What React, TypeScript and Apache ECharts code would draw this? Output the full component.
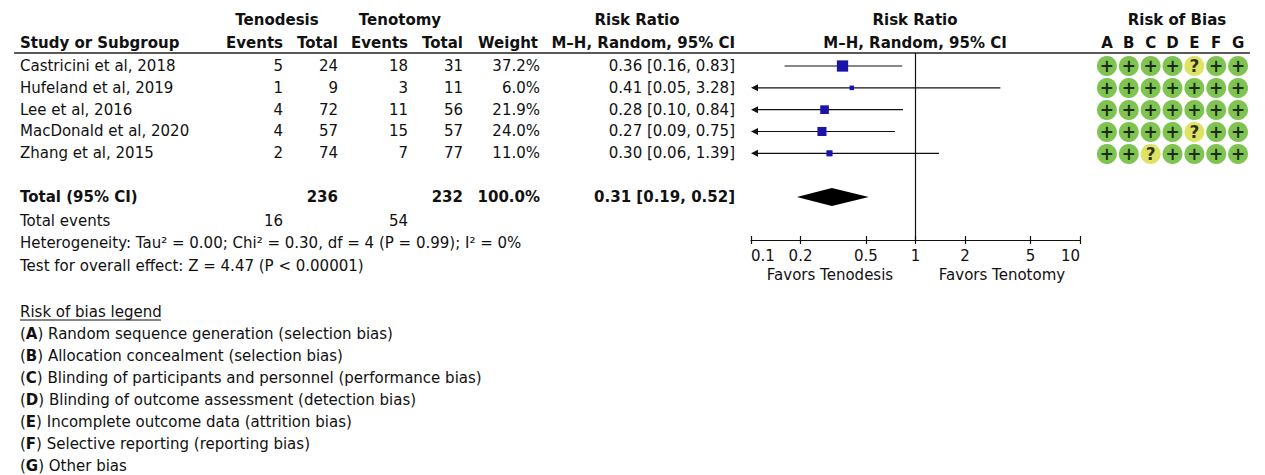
import React, { useEffect, useRef } from "react";
import * as echarts from "echarts";

const studies = ["Castricini et al, 2018", "Hufeland et al, 2019", "Lee et al, 2016", "MacDonald et al, 2020", "Zhang et al, 2015"];
const tenodesisEvents = [5, 1, 4, 4, 2];
const tenodesisTotal = [24, 9, 72, 57, 74];
const tenotomyEvents = [18, 3, 11, 15, 7];
const tenotomyTotal = [31, 11, 56, 57, 77];
const weights = [37.2, 6.0, 21.9, 24.0, 11.0];
const rr = [0.36, 0.41, 0.28, 0.27, 0.3];
const ciLow = [0.16, 0.05, 0.1, 0.09, 0.06];
const ciHigh = [0.83, 3.28, 0.84, 0.75, 1.39];
const totalTenodesis = 236;
const totalTenotomy = 232;
const totalWeight = "100.0%";
const totalEventsTenodesis = 16;
const totalEventsTenotomy = 54;
const pooled = [0.31, 0.19, 0.52];
const tickValues = [0.1, 0.2, 0.5, 1, 2, 5, 10];
const biasDomains = ["A", "B", "C", "D", "E", "F", "G"];
const biasJudgements = [
  ["+", "+", "+", "+", "?", "+", "+"],
  ["+", "+", "+", "+", "+", "+", "+"],
  ["+", "+", "+", "+", "+", "+", "+"],
  ["+", "+", "+", "+", "?", "+", "+"],
  ["+", "+", "?", "+", "+", "+", "+"],
];
const biasLegend = [
  ["A", "Random sequence generation (selection bias)"],
  ["B", "Allocation concealment (selection bias)"],
  ["C", "Blinding of participants and personnel (performance bias)"],
  ["D", "Blinding of outcome assessment (detection bias)"],
  ["E", "Incomplete outcome data (attrition bias)"],
  ["F", "Selective reporting (reporting bias)"],
  ["G", "Other bias"],
];
const heterogeneityText = "Heterogeneity: Tau² = 0.00; Chi² = 0.30, df = 4 (P = 0.99); I² = 0%";
const overallText = "Test for overall effect: Z = 4.47 (P < 0.00001)";

const FONT = '"DejaVu Sans", sans-serif';
const FS = 15;
const INK = "#111";

const fmt2 = (v: number) => v.toFixed(2);
const ciText = (e: number, l: number, h: number) => `${fmt2(e)} [${fmt2(l)}, ${fmt2(h)}]`;

function txt(text: string, x: number, y: number, align: string, bold = false, extra: any = {}) {
  return {
    type: "text",
    x,
    y,
    silent: true,
    style: {
      text,
      font: `${bold ? "bold " : ""}${FS}px ${FONT}`,
      fill: INK,
      align,
      verticalAlign: "middle",
      textAlign: align,
      textVerticalAlign: "middle",
      ...extra,
    },
  };
}

export default function App() {
  const ref = useRef<HTMLDivElement>(null);
  useEffect(() => {
    if (!ref.current) return;
    const chart = echarts.init(ref.current, undefined, { renderer: "svg" });

    const rowY0 = 66;
    const pitch = 21.83;
    const gridTop = 53;
    const gridBottomPx = 240;
    const yMin = (gridTop - rowY0) / pitch;
    const yMax = (gridBottomPx - rowY0) / pitch;
    const rowPx = (i: number) => rowY0 + pitch * i;
    const totalIdx = 6;

    const L = Math.log10;
    const studyData = studies.map((_, i) => [L(rr[i]), L(ciLow[i]), L(ciHigh[i]), i, weights[i]]);

    const graphics: any[] = [];
    // headers
    graphics.push(txt("Tenodesis", 277, 20, "center", true));
    graphics.push(txt("Tenotomy", 400, 20, "center", true));
    graphics.push(txt("Risk Ratio", 637, 20, "center", true));
    graphics.push(txt("Risk Ratio", 915, 20, "center", true));
    graphics.push(txt("Risk of Bias", 1177, 20, "center", true));
    graphics.push(txt("Study or Subgroup", 20, 43, "left", true));
    graphics.push(txt("Events", 283, 43, "right", true));
    graphics.push(txt("Total", 338, 43, "right", true));
    graphics.push(txt("Events", 408, 43, "right", true));
    graphics.push(txt("Total", 463, 43, "right", true));
    graphics.push(txt("Weight", 538, 43, "right", true));
    graphics.push(txt("M–H, Random, 95% CI", 735, 43, "right", true));
    graphics.push(txt("M–H, Random, 95% CI", 915, 43, "center", true));
    graphics.push({
      type: "line",
      silent: true,
      shape: { x1: 14, y1: 53, x2: 1250, y2: 53 },
      style: { stroke: "#222", lineWidth: 1.5 },
    });
    // rows
    studies.forEach((s, i) => {
      const y = rowPx(i);
      graphics.push(txt(s, 20, y, "left"));
      graphics.push(txt(String(tenodesisEvents[i]), 283, y, "right"));
      graphics.push(txt(String(tenodesisTotal[i]), 338, y, "right"));
      graphics.push(txt(String(tenotomyEvents[i]), 408, y, "right"));
      graphics.push(txt(String(tenotomyTotal[i]), 463, y, "right"));
      graphics.push(txt(weights[i].toFixed(1) + "%", 540, y, "right"));
      graphics.push(txt(ciText(rr[i], ciLow[i], ciHigh[i]), 735, y, "right"));
    });
    const ty = rowPx(totalIdx);
    graphics.push(txt("Total (95% CI)", 20, ty, "left", true));
    graphics.push(txt(String(totalTenodesis), 338, ty, "right", true));
    graphics.push(txt(String(totalTenotomy), 463, ty, "right", true));
    graphics.push(txt(totalWeight, 540, ty, "right", true));
    graphics.push(txt(ciText(pooled[0], pooled[1], pooled[2]), 735, ty, "right", true));
    graphics.push(txt("Total events", 20, 221, "left"));
    graphics.push(txt(String(totalEventsTenodesis), 283, 221, "right"));
    graphics.push(txt(String(totalEventsTenotomy), 408, 221, "right"));
    graphics.push(txt(heterogeneityText, 20, 243, "left"));
    graphics.push(txt(overallText, 20, 266, "left"));
    graphics.push(txt("Favors Tenodesis", 830, 275, "center"));
    graphics.push(txt("Favors Tenotomy", 1002, 275, "center"));
    // legend
    graphics.push(txt("Risk of bias legend", 20, 312, "left"));
    graphics.push({
      type: "line",
      silent: true,
      shape: { x1: 20, y1: 320, x2: 161, y2: 320 },
      style: { stroke: INK, lineWidth: 1 },
    });
    biasLegend.forEach(([k, d], i) => {
      graphics.push(
        txt(`({b|${k}}) ${d}`, 20, 333.5 + i * 22, "left", false, {
          rich: { b: { font: `bold ${FS}px ${FONT}`, fill: INK } },
        })
      );
    });

    const biasData: any[] = [];
    biasJudgements.forEach((row, r) =>
      row.forEach((v, c) => biasData.push({
        value: [c, r, v],
        itemStyle: { color: v === "+" ? "#5fb526" : "#d7dc3d" },
      }))
    );

    const option: any = {
      animation: false,
      textStyle: { fontFamily: FONT },
      grid: [
        { left: 751, width: 329, top: gridTop, height: gridBottomPx - gridTop },
        { left: 1096, width: 153, top: 55, height: 110 },
      ],
      xAxis: [
        {
          type: "value",
          gridIndex: 0,
          min: -1,
          max: 1,
          position: "bottom",
          splitLine: { show: false },
          axisLine: { show: true, onZero: false, lineStyle: { color: INK, width: 1.2 } },
          axisTick: { show: true, inside: false, length: 4, customValues: tickValues.map(L), lineStyle: { color: INK, width: 1.2 } },
          axisLabel: {
            show: true,
            customValues: tickValues.map(L),
            color: INK,
            fontSize: FS,
            fontFamily: FONT,
            margin: 8,
            alignMinLabel: "left",
            alignMaxLabel: "right",
            formatter: (v: number) => {
              const t = tickValues.find((tv) => Math.abs(L(tv) - v) < 1e-6);
              return t === undefined ? "" : String(t);
            },
          },
        },
        {
          type: "value",
          gridIndex: 0,
          min: -1,
          max: 1,
          position: "bottom",
          splitLine: { show: false },
          axisLine: { show: false, onZero: false },
          axisTick: { show: true, inside: true, length: 4, customValues: tickValues.map(L), lineStyle: { color: INK, width: 1.2 } },
          axisLabel: { show: false },
        },
        {
          type: "category",
          gridIndex: 1,
          data: biasDomains,
          position: "top",
          axisLine: { show: false },
          axisTick: { show: false },
          axisLabel: { color: INK, fontSize: FS, fontWeight: "bold", fontFamily: FONT, margin: 5 },
        },
      ],
      yAxis: [
        { type: "value", gridIndex: 0, min: yMin, max: yMax, inverse: true, show: false },
        { type: "category", gridIndex: 1, data: studies, inverse: true, show: false },
      ],
      series: [
        {
          type: "custom",
          xAxisIndex: 0,
          yAxisIndex: 0,
          data: studyData,
          encode: { x: [0, 1, 2], y: 3 },
          markLine: {
            silent: true,
            symbol: "none",
            label: { show: false },
            lineStyle: { color: INK, type: "solid", width: 1.2 },
            data: [{ xAxis: 0 }],
          },
          renderItem: (params: any, api: any) => {
            const est = api.value(0);
            const lo = api.value(1);
            const hi = api.value(2);
            const idx = api.value(3);
            const w = api.value(4);
            const y = api.coord([est, idx])[1];
            const xe = api.coord([est, idx])[0];
            const clippedLo = Math.max(lo, -1);
            const xl = api.coord([clippedLo, idx])[0];
            const xh = api.coord([Math.min(hi, 1), idx])[0];
            const s = Math.max(4, 1.85 * Math.sqrt(w));
            const children: any[] = [
              {
                type: "line",
                shape: { x1: lo <= -1 ? xl + 4 : xl, y1: y, x2: xh, y2: y },
                style: { stroke: INK, lineWidth: 1.2 },
              },
              {
                type: "rect",
                shape: { x: xe - s / 2, y: y - s / 2, width: s, height: s },
                style: { fill: "#1c14a8" },
              },
            ];
            if (lo <= -1) {
              children.push({
                type: "polygon",
                shape: { points: [[xl, y], [xl + 7, y - 3.5], [xl + 7, y + 3.5]] },
                style: { fill: INK },
              });
            }
            return { type: "group", children };
          },
        },
        {
          type: "custom",
          xAxisIndex: 0,
          yAxisIndex: 0,
          data: [[L(pooled[0]), L(pooled[1]), L(pooled[2]), totalIdx]],
          encode: { x: [0, 1, 2], y: 3 },
          renderItem: (params: any, api: any) => {
            const idx = api.value(3);
            const [xe, y] = api.coord([api.value(0), idx]);
            const xl = api.coord([api.value(1), idx])[0];
            const xh = api.coord([api.value(2), idx])[0];
            const h = 9;
            return {
              type: "polygon",
              shape: { points: [[xl, y], [xe, y - h], [xh, y], [xe, y + h]] },
              style: { fill: "#000" },
            };
          },
        },
        {
          type: "scatter",
          xAxisIndex: 2,
          yAxisIndex: 1,
          symbol: "circle",
          symbolSize: 20,
          data: biasData,
          label: {
            show: true,
            position: "inside",
            formatter: (p: any) => p.value[2],
            color: "#000",
            fontSize: 17,
            fontWeight: "bold",
            fontFamily: FONT,
          },
        },
      ],
      graphic: graphics,
    };
    chart.setOption(option);
    return () => chart.dispose();
  }, []);
  return (
    <div
      ref={ref}
      style={{ position: "fixed", left: 0, top: 0, width: 1265, height: 475, background: "#fff" }}
    />
  );
}
